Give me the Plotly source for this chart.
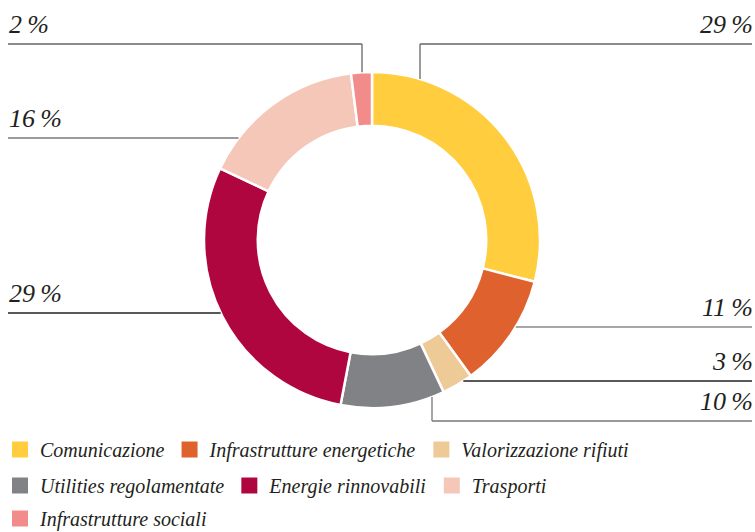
import math
import plotly.graph_objects as go

categories = ["Comunicazione", "Infrastrutture energetiche", "Valorizzazione rifiuti",
              "Utilities regolamentate", "Energie rinnovabili", "Trasporti",
              "Infrastrutture sociali"]
values = [29, 11, 3, 10, 29, 16, 2]
colors = ["#FFCD3E", "#DE612E", "#EDCA96", "#818285", "#B0063F", "#F4C7B8", "#F28C8A"]
legend_rows = ["legend", "legend", "legend", "legend2", "legend2", "legend2", "legend3"]

W, H = 755, 532
CX, CY, R = 372, 240, 168
FONT = "'Liberation Serif', 'Times New Roman', Tinos, serif"
TXT = "#231f20"

# leader-line styling: side, line y (px), optional vertical x (px), colour
leaders = [
    ("right", 44, 420, "#666666"),
    ("right", 327, None, "#8a8a8a"),
    ("right", 381, None, "#222222"),
    ("right", 421, 432, "#777777"),
    ("left", 313, None, "#222222"),
    ("left", 138, None, "#7a7a7a"),
    ("left", 44, 362, "#666666"),
]

fig = go.Figure()
fig.add_trace(go.Pie(
    labels=categories, values=values, sort=False, direction="clockwise", rotation=0,
    hole=0.68, textinfo="none", showlegend=False,
    marker=dict(colors=colors, line=dict(color="white", width=2.5)),
    domain=dict(x=[(CX - R) / W, (CX + R) / W], y=[1 - (CY + R) / H, 1 - (CY - R) / H]),
))

for cat, col, lg in zip(categories, colors, legend_rows):
    fig.add_trace(go.Scatter(x=[None], y=[None], mode="markers", name=cat,
                             marker=dict(symbol="square", size=20, color=col),
                             legend=lg, showlegend=True))

def px(x):
    return x / W

def py(y):
    return 1 - y / H

shapes = []
annotations = []
for val, (side, ly, vx, lc) in zip(values, leaders):
    if vx is None:
        dy = ly - CY
        dx = math.sqrt(max(R * R - dy * dy, 0))
        xe = CX - dx if side == "left" else CX + dx
        x0, x1 = (8, xe) if side == "left" else (xe, 752)
        shapes.append(dict(type="line", xref="paper", yref="paper", x0=px(x0), x1=px(x1),
                           y0=py(ly), y1=py(ly), line=dict(color=lc, width=1.3)))
    else:
        dx = vx - CX
        dyc = math.sqrt(R * R - dx * dx)
        ye = CY - dyc if ly < CY else CY + dyc
        x0, x1 = (8, vx) if side == "left" else (vx, 752)
        shapes.append(dict(type="line", xref="paper", yref="paper", x0=px(x0), x1=px(x1),
                           y0=py(ly), y1=py(ly), line=dict(color=lc, width=1.3)))
        shapes.append(dict(type="line", xref="paper", yref="paper", x0=px(vx), x1=px(vx),
                           y0=py(ly), y1=py(ye), line=dict(color=lc, width=1.3)))
    annotations.append(dict(
        text=f"{val}\u2009%", xref="paper", yref="paper", showarrow=False,
        x=px(7) if side == "left" else px(755), xanchor="left" if side == "left" else "right",
        y=py(ly - 3), yanchor="bottom",
        font=dict(family=FONT, size=26, color=TXT, style="italic"),
    ))

leg_common = dict(orientation="h", xanchor="left", yanchor="top", x=0, bgcolor="rgba(0,0,0,0)",
                  font=dict(family=FONT, size=20, color=TXT, style="italic"),
                  itemwidth=30, tracegroupgap=0)
fig.update_layout(
    width=W, height=H, margin=dict(l=0, r=0, t=0, b=0, autoexpand=False),
    paper_bgcolor="white", plot_bgcolor="white",
    xaxis=dict(visible=False), yaxis=dict(visible=False),
    showlegend=True,
    legend=dict(y=py(430), **leg_common),
    legend2=dict(y=py(466), **leg_common),
    legend3=dict(y=py(499), **leg_common),
    shapes=shapes, annotations=annotations,
)

fig.write_html("out.html")
